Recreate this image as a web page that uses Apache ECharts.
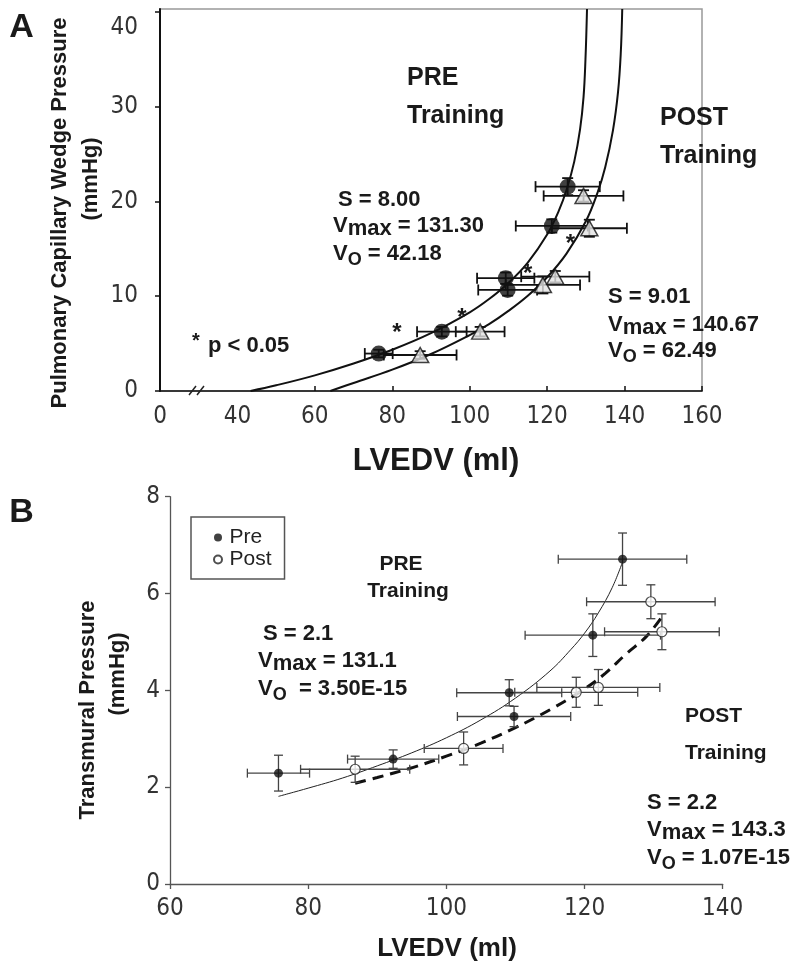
<!DOCTYPE html>
<html><head><meta charset="utf-8">
<script src="https://cdn.jsdelivr.net/npm/echarts@6/dist/echarts.min.js"></script>
<style>html,body{margin:0;padding:0;background:#fff}#c{width:800px;height:973px}</style>
</head><body><div id="c"></div>
<script>
// ---------- Panel A data (PCWP vs LVEDV) ----------
const aPreX    = [76.5, 92.8, 109.3, 109.8, 121.2, 125.3];
const aPreY    = [3.95, 6.26, 11.9, 10.66, 17.41, 21.56];
const aPreXerr = [3.6, 6.4, 7.4, 7.6, 9.3, 8.3];
const aPreYerr = [0.4, 0.5, 0.6, 0.6, 0.7, 0.9];

const aPostX    = [87.2, 102.7, 118.9, 122.1, 129.4, 130.9];
const aPostY    = [3.8, 6.26, 11.19, 12.06, 20.58, 17.17];
const aPostXerr = [9.4, 6.3, 9.6, 8.8, 10.3, 9.7];
const aPostYerr = [0.4, 0.5, 0.9, 0.6, 0.6, 0.9];

const aPreCurve = [[43.4,0],[50,0.6],[60,1.65],[70,2.9],[80,4.35],[90,6.1],[100,8.3],[105,9.7],[110,11.4],[115,13.55],[120,16.5],[123,19.0],[125,21.2],[127,24.2],[128.5,27.6],[129.4,31.0],[129.9,35.0],[130.3,40.3]];
const aPostCurve = [[64.0,0],[70,0.85],[80,2.25],[90,3.9],[100,5.9],[105,7.05],[110,8.45],[115,10.05],[120,12.0],[125,14.5],[130,17.9],[133,20.9],[135,23.6],[137,27.5],[138.3,31.5],[139.0,35.5],[139.4,40.3]];

const aStarX = [81.2, 98.0, 115.0, 126.0];
const aStarY = [6.6, 8.2, 12.8, 16.0];

const aXLabels = [20, 40, 60, 80, 100, 120, 140, 160];
const aXTicks  = [60, 80, 100, 120, 140, 160];
const aYLabels = [0, 10, 20, 30, 40];

// ---------- Panel B data (Transmural pressure vs LVEDV) ----------
const bPreX    = [75.7, 92.3, 109.1, 109.8, 121.2, 125.5];
const bPreY    = [2.29, 2.58, 3.95, 3.46, 5.14, 6.71];
const bPreXerr = [4.5, 6.6, 7.6, 8.2, 9.8, 9.3];
const bPreYerr = [0.37, 0.19, 0.27, 0.21, 0.44, 0.54];

const bPostX    = [86.8, 102.5, 118.8, 122.0, 129.6, 131.2];
const bPostY    = [2.37, 2.80, 3.96, 4.06, 5.83, 5.21];
const bPostXerr = [7.9, 5.7, 8.9, 8.9, 9.3, 8.3];
const bPostYerr = [0.27, 0.34, 0.31, 0.37, 0.35, 0.37];

const bPreCurve = [[75.7,1.81],[80,1.98],[85,2.19],[90,2.44],[95,2.71],[100,3.02],[105,3.39],[110,3.84],[115,4.4],[118,4.84],[120,5.18],[122,5.6],[124,6.12],[125.5,6.65]];
const bPostCurve = [[86.8,2.08],[90,2.2],[95,2.4],[100,2.64],[105,2.91],[110,3.23],[115,3.6],[120,4.03],[123,4.35],[126,4.75],[129,5.12],[131.5,5.58]];

// ---------- styling ----------
const SANS = "'Liberation Sans', Arial, Helvetica, sans-serif";
const NARROW = "'Liberation Sans Narrow', 'Arial Narrow', 'DejaVu Sans Condensed', 'Liberation Sans', sans-serif";
const INK = '#1a1a1a';

function pts(xs, ys, xe, ye) { return xs.map((x, i) => [x, ys[i], xe[i], ye[i]]); }

function errRender(cap, color, lw) {
  return function (params, api) {
    const x = api.value(0), y = api.value(1), xe = api.value(2), ye = api.value(3);
    const pL = api.coord([x - xe, y]), pR = api.coord([x + xe, y]);
    const pT = api.coord([x, y + ye]), pB = api.coord([x, y - ye]);
    const ch = [];
    const L = (x1, y1, x2, y2) => ch.push({ type: 'line', shape: { x1, y1, x2, y2 }, style: { stroke: color, lineWidth: lw } });
    L(pL[0], pL[1], pR[0], pR[1]);
    L(pL[0], pL[1] - cap, pL[0], pL[1] + cap);
    L(pR[0], pR[1] - cap, pR[0], pR[1] + cap);
    if (ye > 0) {
      L(pT[0], pT[1], pB[0], pB[1]);
      L(pT[0] - cap, pT[1], pT[0] + cap, pT[1]);
      L(pB[0] - cap, pB[1], pB[0] + cap, pB[1]);
    }
    return { type: 'group', children: ch };
  };
}

function starRender(params, api) {
  const p = api.coord([api.value(0), api.value(1)]);
  return { type: 'text', x: p[0], y: p[1] + 5, style: { text: '*', fontSize: 24, fontWeight: 'bold', fontFamily: SANS, fill: INK, align: 'center', verticalAlign: 'middle' } };
}

function txt(x, y, text, size, o) {
  o = o || {};
  return { type: 'text', x, y, rotation: o.rot || 0, z: 100, silent: true,
    style: { text, fontSize: size, fontWeight: o.w || 'bold', fontFamily: SANS, fill: o.c || INK, align: o.a || 'left', verticalAlign: 'middle' } };
}
function vtxt(x, y, sub, rest, size) {
  const base = { fontSize: size, fontWeight: 'bold', fontFamily: SANS, fill: INK, lineHeight: size + 4 };
  const rich = { n: base, m: Object.assign({}, base, { padding: [6, 0, 0, 0] }), o: Object.assign({}, base, { fontSize: size - 4, padding: [12, 0, 0, 0] }) };
  const text = sub === 'max' ? '{n|V}{m|max}{n|' + rest + '}' : '{n|V}{o|O}{n|' + rest + '}';
  return { type: 'text', x, y, z: 100, silent: true, style: { text, rich, align: 'left', verticalAlign: 'middle' } };
}

const tickLabel = { fontFamily: NARROW, fontSize: 24, color: '#333' };

const option = {
  animation: false,
  backgroundColor: '#fff',
  grid: [
    { left: 160, top: 9, width: 542, height: 382, show: true, borderColor: '#999', borderWidth: 1.5, backgroundColor: 'transparent' },
    { left: 170, top: 496.7, width: 552.7, height: 387.3, show: false }
  ],
  xAxis: [
    { gridIndex: 0, type: 'value', min: 20, max: 160, interval: 20, splitLine: { show: false },
      axisLine: { lineStyle: { color: '#111', width: 1.5 } },
      axisTick: { inside: true, length: 5, lineStyle: { color: '#111', width: 1.5 }, customValues: aXTicks },
      axisLabel: Object.assign({ margin: 14, customValues: aXLabels, formatter: v => (v === 20 ? '0' : String(v)) }, tickLabel) },
    { gridIndex: 1, type: 'value', min: 60, max: 140, interval: 20, splitLine: { show: false },
      axisLine: { lineStyle: { color: '#555', width: 1.3 } },
      axisTick: { inside: false, length: 5, lineStyle: { color: '#555', width: 1.3 } },
      axisLabel: Object.assign({ margin: 13 }, tickLabel) }
  ],
  yAxis: [
    { gridIndex: 0, type: 'value', min: 0, max: 40.3, interval: 10, splitLine: { show: false },
      axisLine: { lineStyle: { color: '#111', width: 2 } },
      axisTick: { inside: false, length: 5, lineStyle: { color: '#111', width: 1.5 }, customValues: aYLabels },
      axisLabel: Object.assign({ margin: 22, customValues: aYLabels,
        formatter: v => (v === 40 ? '{d|40}' : String(v)),
        rich: { d: { fontFamily: NARROW, fontSize: 24, color: '#333', padding: [32, 0, 0, 0] } } }, tickLabel) },
    { gridIndex: 1, type: 'value', min: 0, max: 8, interval: 2, splitLine: { show: false },
      axisLine: { lineStyle: { color: '#555', width: 1.3 } },
      axisTick: { inside: false, length: 5, lineStyle: { color: '#555', width: 1.3 } },
      axisLabel: Object.assign({ margin: 10 }, tickLabel) }
  ],
  legend: {
    data: ['Pre', 'Post'], orient: 'vertical', left: 191, top: 517, selectedMode: false,
    itemWidth: 13, itemHeight: 8, itemGap: 1, icon: 'circle',
    padding: [10, 13, 9, 22], borderColor: '#555', borderWidth: 1.5, borderRadius: 0,
    textStyle: { fontSize: 21, fontFamily: SANS, color: '#222', lineHeight: 20 }
  },
  series: [
    // Panel A
    { name: 'A pre fit', type: 'line', xAxisIndex: 0, yAxisIndex: 0, data: aPreCurve, showSymbol: false, smooth: 0.4, lineStyle: { color: '#111', width: 2 }, z: 2, silent: true },
    { name: 'A post fit', type: 'line', xAxisIndex: 0, yAxisIndex: 0, data: aPostCurve, showSymbol: false, smooth: 0.4, lineStyle: { color: '#111', width: 2 }, z: 2, silent: true },
    { name: 'A pre err', type: 'custom', xAxisIndex: 0, yAxisIndex: 0, data: pts(aPreX, aPreY, aPreXerr, aPreYerr), renderItem: errRender(5.5, '#111', 1.8), encode: { x: 0, y: 1 }, z: 3, silent: true },
    { name: 'A post err', type: 'custom', xAxisIndex: 0, yAxisIndex: 0, data: pts(aPostX, aPostY, aPostXerr, aPostYerr), renderItem: errRender(5.5, '#111', 1.8), encode: { x: 0, y: 1 }, z: 3, silent: true },
    { name: 'A post', type: 'scatter', xAxisIndex: 0, yAxisIndex: 0, data: aPostX.map((x, i) => [x, aPostY[i]]), symbol: 'triangle', symbolSize: [17, 15], itemStyle: { color: '#e2e2e2', borderColor: '#111', borderWidth: 1.5 }, z: 4, silent: true },
    { name: 'A pre', type: 'scatter', xAxisIndex: 0, yAxisIndex: 0, data: aPreX.map((x, i) => [x, aPreY[i]]), symbol: 'circle', symbolSize: 16, itemStyle: { color: '#111' }, z: 5, silent: true },
    { name: 'A stars', type: 'custom', xAxisIndex: 0, yAxisIndex: 0, data: aStarX.map((x, i) => [x, aStarY[i]]), renderItem: starRender, encode: { x: 0, y: 1 }, z: 6, silent: true },
    // Panel B
    { name: 'B pre fit', type: 'line', xAxisIndex: 1, yAxisIndex: 1, data: bPreCurve, showSymbol: false, smooth: 0.4, lineStyle: { color: '#222', width: 1 }, z: 2, silent: true },
    { name: 'B post fit', type: 'line', xAxisIndex: 1, yAxisIndex: 1, data: bPostCurve, showSymbol: false, smooth: 0.4, lineStyle: { color: '#111', width: 3, type: [11, 7] }, z: 2, silent: true },
    { name: 'B pre err', type: 'custom', xAxisIndex: 1, yAxisIndex: 1, data: pts(bPreX, bPreY, bPreXerr, bPreYerr), renderItem: errRender(4.5, '#444', 1.3), encode: { x: 0, y: 1 }, z: 3, silent: true },
    { name: 'B post err', type: 'custom', xAxisIndex: 1, yAxisIndex: 1, data: pts(bPostX, bPostY, bPostXerr, bPostYerr), renderItem: errRender(4.5, '#444', 1.3), encode: { x: 0, y: 1 }, z: 3, silent: true },
    { name: 'Pre', type: 'scatter', xAxisIndex: 1, yAxisIndex: 1, data: bPreX.map((x, i) => [x, bPreY[i]]), symbol: 'circle', symbolSize: 9, itemStyle: { color: '#111' }, z: 5, silent: true },
    { name: 'Post', type: 'scatter', xAxisIndex: 1, yAxisIndex: 1, data: bPostX.map((x, i) => [x, bPostY[i]]), symbol: 'circle', symbolSize: 10, itemStyle: { color: '#fff', borderColor: '#222', borderWidth: 1.2 }, z: 5, silent: true }
  ],
  graphic: [
    // Panel A labels
    txt(21.5, 27.5, 'A', 34, { a: 'center' }),
    txt(407, 78, 'PRE', 25),
    txt(407, 116.5, 'Training', 25),
    txt(660, 118, 'POST', 25),
    txt(660, 156, 'Training', 25),
    txt(338, 200, 'S = 8.00', 22),
    vtxt(333, 226, 'max', ' = 131.30', 22),
    vtxt(333, 254, 'o', ' = 42.18', 22),
    txt(608, 297, 'S = 9.01', 22),
    vtxt(608, 325, 'max', ' = 140.67', 22),
    vtxt(608, 351, 'o', ' = 62.49', 22),
    txt(196, 341, '*', 20, { a: 'center' }),
    txt(208, 346, 'p < 0.05', 22),
    txt(436, 461, 'LVEDV (ml)', 31, { a: 'center' }),
    txt(60, 213, 'Pulmonary Capillary Wedge Pressure', 22, { a: 'center', rot: Math.PI / 2 }),
    txt(91, 179, '(mmHg)', 22, { a: 'center', rot: Math.PI / 2 }),
    { type: 'line', z: 100, silent: true, shape: { x1: 189, y1: 395, x2: 196, y2: 386 }, style: { stroke: '#222', lineWidth: 1.5 } },
    { type: 'line', z: 100, silent: true, shape: { x1: 197, y1: 395, x2: 204, y2: 386 }, style: { stroke: '#222', lineWidth: 1.5 } },
    // Panel B labels
    txt(21.5, 513, 'B', 34, { a: 'center' }),
    txt(401, 564, 'PRE', 21, { a: 'center' }),
    txt(408, 591, 'Training', 21, { a: 'center' }),
    txt(263, 634, 'S = 2.1', 22),
    vtxt(258, 661, 'max', ' = 131.1', 22),
    vtxt(258, 689, 'o', '  = 3.50E-15', 22),
    txt(685, 716, 'POST', 21),
    txt(685, 753, 'Training', 21),
    txt(647, 803, 'S = 2.2', 22),
    vtxt(647, 830, 'max', ' = 143.3', 22),
    vtxt(647, 858, 'o', ' = 1.07E-15', 22),
    txt(447, 949, 'LVEDV (ml)', 26, { a: 'center' }),
    txt(88, 710, 'Transmural Pressure', 22, { a: 'center', rot: Math.PI / 2 }),
    txt(118, 674, '(mmHg)', 22, { a: 'center', rot: Math.PI / 2 })
  ]
};

const chart = echarts.init(document.getElementById('c'), null, { renderer: 'canvas', devicePixelRatio: 1 });
chart.setOption(option);
</script>
</body></html>
